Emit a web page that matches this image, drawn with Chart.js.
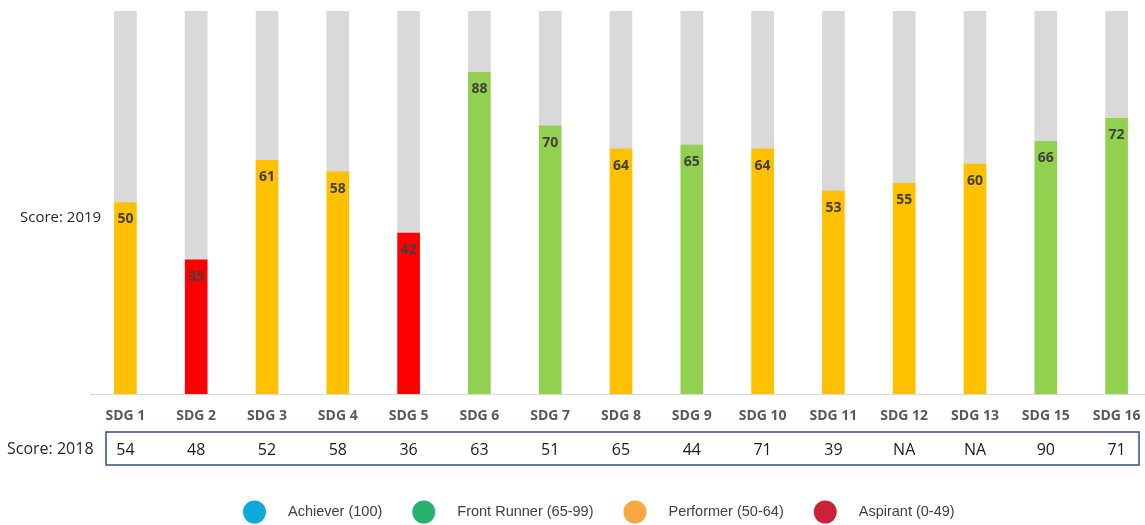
<!DOCTYPE html>
<html>
<head>
<meta charset="utf-8">
<script src="https://cdn.jsdelivr.net/npm/chart.js@4.4.0/dist/chart.umd.min.js"></script>
<style>
    html, body { margin: 0; padding: 0; background: #fff; overflow: hidden; }
    #wrap { width: 1145px; height: 525px; overflow: hidden; position: relative; }
</style>
</head>
<body>
<div id="wrap">
    <canvas id="sdgChart" width="1160" height="525"></canvas>
</div>
<script>
// Goals shown on the x axis
const goals = ['SDG 1', 'SDG 2', 'SDG 3', 'SDG 4', 'SDG 5', 'SDG 6', 'SDG 7', 'SDG 8',
    'SDG 9', 'SDG 10', 'SDG 11', 'SDG 12', 'SDG 13', 'SDG 15', 'SDG 16'];

// 2019 scores as printed on the bars
const score2019 = [50, 35, 61, 58, 42, 88, 70, 64, 65, 64, 53, 55, 60, 66, 72];

// bar lengths as drawn in the picture (SDG 6 is drawn shorter than its label)
const barLength2019 = [50, 35, 61, 58, 42, 84, 70, 64, 65, 64, 53, 55, 60, 66, 72];

// 2018 scores in the table row
const score2018 = ['54', '48', '52', '58', '36', '63', '51', '65', '44', '71', '39', 'NA', 'NA', '90', '71'];

// legend bands
const bandNames = ['Achiever (100)', 'Front Runner (65-99)', 'Performer (50-64)', 'Aspirant (0-49)'];
const bandColors = ['#0EA8DA', '#27B36D', '#F8A842', '#C92239'];

const maxScore = 100;

function barColor(v) {
    if (v < 50) return '#FF0000';
    if (v < 65) return '#FFC000';
    return '#92D050';
}

const remainder = barLength2019.map(v => maxScore - v);

// Labels inside the top of the coloured bars
const valueLabels = {
    id: 'valueLabels',
    afterDatasetsDraw(chart) {
        const ctx = chart.ctx;
        const meta = chart.getDatasetMeta(0);
        ctx.save();
        ctx.font = 'bold 14px "Open Sans"';
        ctx.fillStyle = '#404040';
        ctx.textAlign = 'center';
        ctx.textBaseline = 'middle';
        meta.data.forEach((bar, i) => {
            ctx.fillText(String(score2019[i]), bar.x, bar.y + 17);
        });
        ctx.restore();
    }
};

// Side labels, the 2018 table row and the legend
const extras = {
    id: 'extras',
    afterDraw(chart) {
        const ctx = chart.ctx;
        const x = chart.scales.x;
        ctx.save();

        ctx.fillStyle = '#262626';
        ctx.textAlign = 'left';
        ctx.textBaseline = 'middle';
        ctx.font = '15px "Open Sans"';
        ctx.fillText('Score: 2019', 20, 218);
        ctx.font = '16px "Open Sans"';
        ctx.fillText('Score: 2018', 7, 449);

        // table box
        ctx.strokeStyle = '#2F4D8C';
        ctx.lineWidth = 1.5;
        ctx.strokeRect(106, 432, 1033, 33);

        ctx.textAlign = 'center';
        ctx.fillStyle = '#1a1a1a';
        score2018.forEach((s, i) => {
            ctx.fillText(s, x.getPixelForValue(i), 450);
        });

        // legend
        ctx.font = '14.5px "Liberation Sans"';
        ctx.textAlign = 'left';
        let lx = 243;
        const ly = 512;
        bandNames.forEach((name, i) => {
            ctx.fillStyle = bandColors[i];
            ctx.beginPath();
            ctx.arc(lx + 11.5, ly, 11.5, 0, Math.PI * 2);
            ctx.fill();
            ctx.fillStyle = '#404040';
            const tx = lx + 23 + 22;
            ctx.fillText(name, tx, ly);
            lx = tx + ctx.measureText(name).width + 30;
        });

        ctx.restore();
    }
};

const ctx = document.getElementById('sdgChart').getContext('2d');
new Chart(ctx, {
    type: 'bar',
    data: {
        labels: goals,
        datasets: [{
            label: 'Score 2019',
            data: barLength2019,
            backgroundColor: score2019.map(barColor),
            barThickness: 22,
            stack: 's'
        }, {
            label: 'Remaining',
            data: remainder,
            backgroundColor: '#D9D9D9',
            barThickness: 22,
            stack: 's'
        }]
    },
    options: {
        responsive: false,
        animation: false,
        layout: {
            padding: { left: 90, right: 8, top: 11, bottom: 0 }
        },
        plugins: {
            legend: { display: false },
            tooltip: { enabled: false }
        },
        scales: {
            x: {
                stacked: true,
                grid: { display: false },
                border: { display: true, color: '#D9D9D9', width: 1 },
                ticks: {
                    color: '#595959',
                    font: { family: '"Open Sans"', size: 14, weight: 'bold' },
                    padding: 6,
                    maxRotation: 0,
                    autoSkip: false
                },
                afterFit(scale) { scale.height = 131; }
            },
            y: {
                stacked: true,
                display: false,
                min: 0,
                max: maxScore
            }
        }
    },
    plugins: [valueLabels, extras]
});
</script>
</body>
</html>
